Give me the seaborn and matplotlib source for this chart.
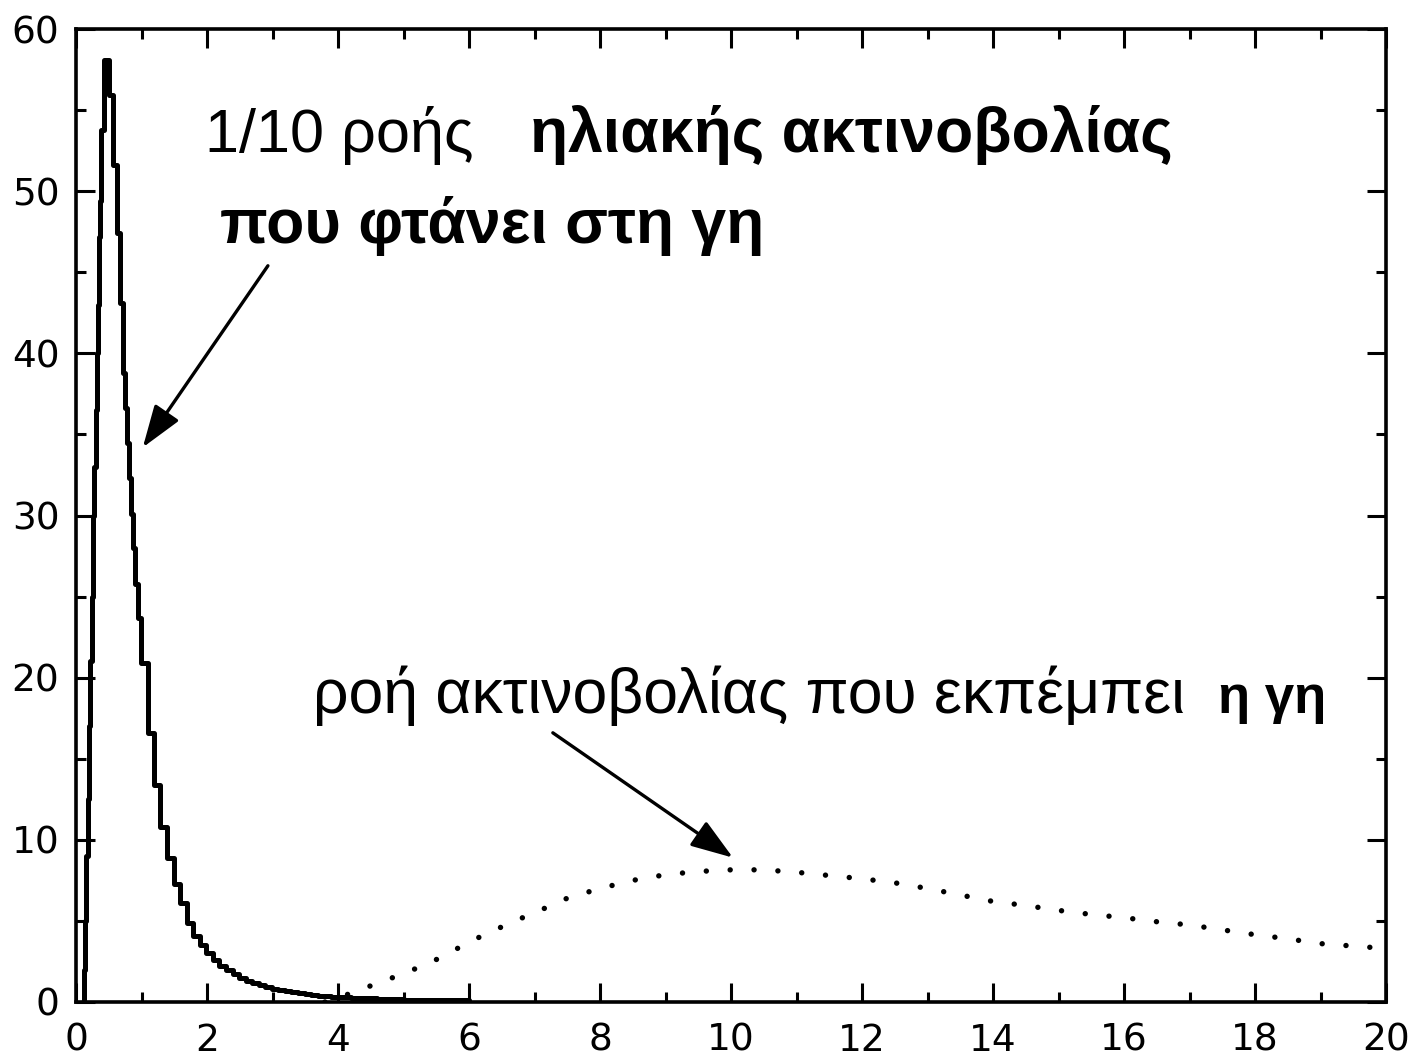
import numpy as np
import pandas as pd
import matplotlib
matplotlib.use("Agg")
import matplotlib.pyplot as plt
from matplotlib.ticker import MultipleLocator
import seaborn as sns

# ---- data ----
sun_x = [0.10, 0.12, 0.14, 0.16, 0.18, 0.20, 0.22, 0.24, 0.26, 0.28, 0.30, 0.32,
         0.335, 0.35, 0.36, 0.38, 0.42, 0.51, 0.56, 0.625, 0.67, 0.72, 0.75, 0.78,
         0.81, 0.84, 0.87, 0.90, 0.94, 0.99, 1.10, 1.19, 1.29, 1.39, 1.49, 1.59,
         1.69, 1.79, 1.89, 1.99, 2.09, 2.19, 2.29, 2.39, 2.49, 2.59, 2.69, 2.79,
         2.89, 2.99, 3.09, 3.19, 3.29, 3.39, 3.49, 3.59, 3.69, 3.79, 3.89, 3.99,
         4.2, 4.4, 4.6, 4.8, 5.0, 5.5, 6.0]
sun_y = [0.0, 2.0, 5.0, 9.0, 12.5, 17.0, 21.0, 25.0, 30.0, 33.0, 36.5, 40.0,
         43.0, 47.2, 49.4, 53.8, 58.1, 55.9, 51.6, 47.4, 43.1, 38.8, 36.6, 34.5,
         32.3, 30.1, 28.0, 25.8, 23.7, 20.9, 16.6, 13.4, 10.8, 8.9, 7.3, 6.1,
         4.9, 4.1, 3.5, 3.0, 2.6, 2.25, 1.95, 1.7, 1.5, 1.32, 1.17, 1.04,
         0.93, 0.83, 0.74, 0.66, 0.6, 0.54, 0.48, 0.44, 0.4, 0.36, 0.33, 0.3,
         0.26, 0.22, 0.19, 0.17, 0.15, 0.12, 0.1]

earth_x = [3.8, 4.0, 4.4, 4.7, 5.0, 5.3, 5.6, 6.0, 6.4, 6.7, 7.0, 7.5, 8.0, 8.5,
           9.0, 9.5, 10.0, 10.5, 11.0, 11.5, 12.0, 12.5, 13.0, 13.5, 14.0, 14.5,
           15.0, 15.5, 16.0, 16.5, 17.0, 17.5, 18.0, 18.5, 19.0, 19.5, 20.0]
earth_y = [0.0, 0.25, 0.85, 1.3, 1.75, 2.25, 2.8, 3.7, 4.45, 5.0, 5.5, 6.4, 7.0, 7.5,
           7.85, 8.05, 8.15, 8.15, 8.0, 7.8, 7.6, 7.35, 7.0, 6.6, 6.2, 5.95,
           5.65, 5.4, 5.2, 4.95, 4.75, 4.45, 4.15, 3.9, 3.6, 3.45, 3.3]

x_ticks = [0, 2, 4, 6, 8, 10, 12, 14, 16, 18, 20]
y_ticks = [0, 10, 20, 30, 40, 50, 60]

label_sun_1 = "1/10 ροής"
label_sun_2 = "ηλιακής ακτινοβολίας"
label_sun_3 = "που φτάνει στη γη"
label_earth_1 = "ροή ακτινοβολίας που εκπέμπει"
label_earth_2 = "η γη"

# ---- style ----
sns.set_style("ticks")
plt.rcParams['font.family'] = ['Liberation Sans', 'DejaVu Sans']
plt.rcParams.update({"text.color": "black", "xtick.color": "black",
                     "ytick.color": "black", "axes.edgecolor": "black",
                     "xtick.labelcolor": "black", "ytick.labelcolor": "black"})

fig = plt.figure(figsize=(14.10, 10.57), dpi=100)
ax = fig.add_axes([76 / 1410, 55 / 1057, 1310 / 1410, 973 / 1057])

sun = pd.DataFrame({"x": sun_x, "y": sun_y})
earth = pd.DataFrame({"x": earth_x, "y": earth_y})

sns.lineplot(data=sun, x="x", y="y", ax=ax, color="black", lw=3.6,
             drawstyle="steps-post", sort=False, legend=False)
sns.lineplot(data=earth, x="x", y="y", ax=ax, color="black", lw=3.9,
             sort=False, legend=False)
ax.lines[-1].set_linestyle((0, (0.01, 4.4)))
ax.lines[-1].set_dash_capstyle("round")

ax.set_xlim(0, 20)
ax.set_ylim(0, 60)
ax.set_xticks(x_ticks)
ax.set_yticks(y_ticks)
ax.set_xticklabels([str(t) for t in x_ticks], family=["DejaVu Sans"])
ax.set_yticklabels([str(t) for t in y_ticks], family=["DejaVu Sans"])
ax.xaxis.set_minor_locator(MultipleLocator(1))
ax.yaxis.set_minor_locator(MultipleLocator(5))
ax.tick_params(which="both", direction="in", top=True, right=True,
               color="black", width=2.2)
ax.tick_params(which="major", length=13.5, labelsize=27, labelcolor="black")
ax.tick_params(which="minor", length=7.5)
ax.tick_params(axis="x", which="major", pad=15)
ax.tick_params(axis="y", which="major", pad=12)
ax.set_xlabel("")
ax.set_ylabel("")
for s in ax.spines.values():
    s.set_linewidth(2.6)
    s.set_color("black")

# ---- annotations ----
ax.text(1.97, 52.4, label_sun_1, fontsize=44, va="baseline", ha="left")
ax.text(6.93, 52.4, label_sun_2, fontsize=45, fontweight="bold", va="baseline", ha="left")
ax.text(2.2, 46.8, label_sun_3, fontsize=45, fontweight="bold", va="baseline", ha="left")
ax.text(3.62, 17.8, label_earth_1, fontsize=45, va="baseline", ha="left")
ax.text(17.43, 17.8, label_earth_2, fontsize=38, fontweight="bold", va="baseline", ha="left")

arrow = dict(arrowstyle="-|>,head_length=1.3,head_width=0.45", lw=2.4,
             color="black", mutation_scale=20, shrinkA=0, shrinkB=0)
ax.annotate("", xy=(1.02, 34.2), xytext=(2.93, 45.4), arrowprops=arrow)
ax.annotate("", xy=(10.03, 8.9), xytext=(7.28, 16.6), arrowprops=arrow)

fig.savefig("out.png", dpi=100, facecolor="white")
